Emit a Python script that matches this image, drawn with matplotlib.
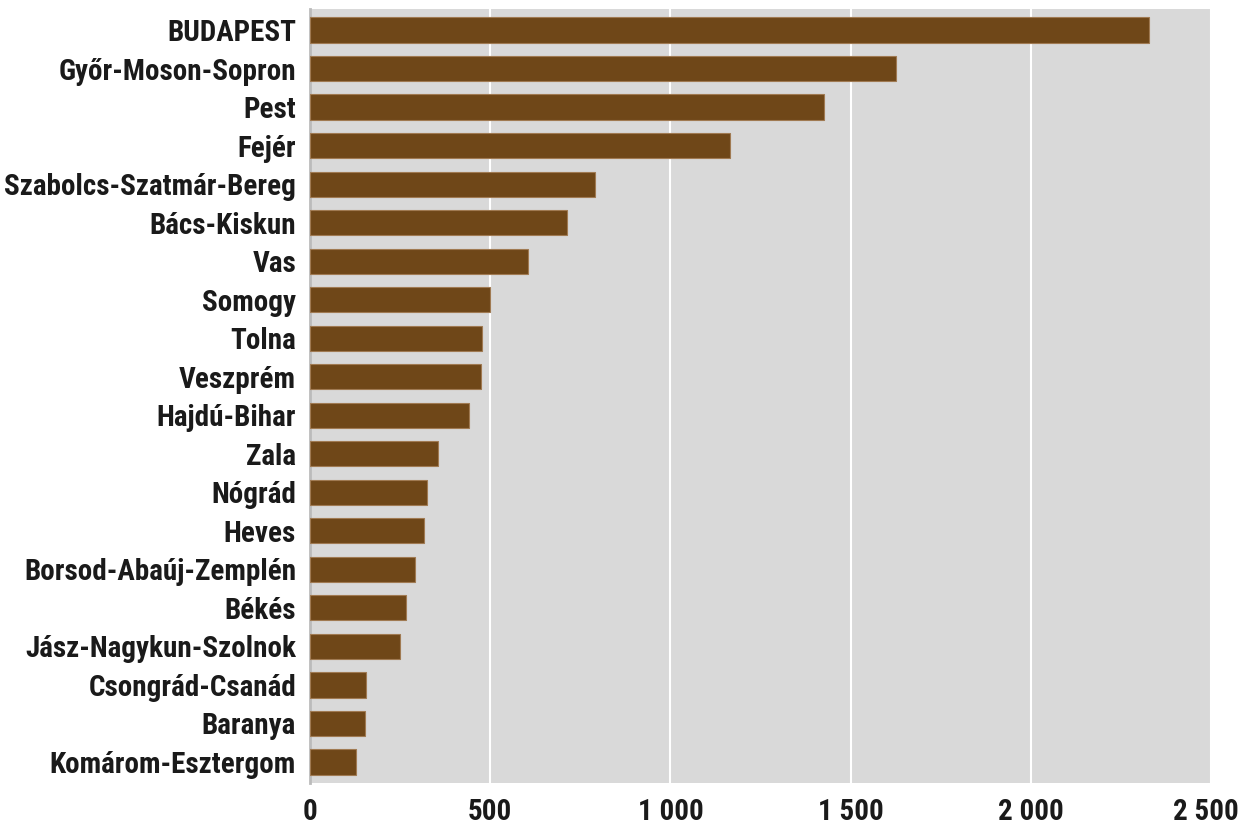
import matplotlib.pyplot as plt
from matplotlib import font_manager
from matplotlib.ticker import FuncFormatter
from matplotlib.transforms import ScaledTranslation

# megyék, felülről lefelé
megyek = ['BUDAPEST', 'Győr-Moson-Sopron', 'Pest', 'Fejér',
          'Szabolcs-Szatmár-Bereg', 'Bács-Kiskun', 'Vas', 'Somogy', 'Tolna',
          'Veszprém', 'Hajdú-Bihar', 'Zala', 'Nógrád', 'Heves',
          'Borsod-Abaúj-Zemplén', 'Békés', 'Jász-Nagykun-Szolnok',
          'Csongrád-Csanád', 'Baranya', 'Komárom-Esztergom']
ertekek = [2327, 1625, 1427, 1165, 791, 712, 606, 499, 478, 475,
           442, 355, 326, 315, 290, 265, 249, 156, 153, 127]
xticks = [0, 500, 1000, 1500, 2000, 2500]

names = {f.name for f in font_manager.fontManager.ttflist}
fam = [f for f in ['Roboto Condensed', 'Liberation Sans Narrow'] if f in names]
plt.rcParams['font.family'] = fam + ['DejaVu Sans']
plt.rcParams['font.weight'] = 'bold'
if not fam:
    plt.rcParams['font.stretch'] = 'condensed'

police = 21
barna = '#6f4718'
szurke = '#d9d9d9'

fig = plt.figure(figsize=(12.39, 8.27), dpi=100)
ax = fig.add_axes([310 / 1239, 1 - 783 / 827, 901 / 1239, 774 / 827])
ax.set_facecolor(szurke)

pos = list(range(len(megyek)))[::-1]
ax.barh(pos, ertekek, height=0.66, color=barna, edgecolor='#a07a52',
        linewidth=0.8, zorder=3)

ax.set_xlim(0, 2500)
ax.set_ylim(-0.55, len(megyek) - 0.45)
ax.set_xticks(xticks)
ax.xaxis.set_major_formatter(FuncFormatter(lambda v, p: f'{int(v):,}'.replace(',', ' ')))
ax.set_yticks(pos)
ax.set_yticklabels(megyek)
ax.tick_params(axis='both', length=0, labelsize=police, colors='#1a1a1a')
ax.tick_params(axis='y', pad=10)
ax.tick_params(axis='x', pad=11)
ax.grid(axis='x', color='white', linewidth=1.5, zorder=1)
ax.set_axisbelow(True)

# az utolsó címkét kicsit balra, hogy ne lógjon ki
last = ax.get_xticklabels()[-1]
last.set_transform(last.get_transform() + ScaledTranslation(-4 / 72, 0, fig.dpi_scale_trans))

for s in ['top', 'right', 'bottom']:
    ax.spines[s].set_visible(False)
ax.spines['left'].set_color('#bbbbbb')
ax.spines['left'].set_linewidth(2)

fig.savefig('out.png', dpi=100)
